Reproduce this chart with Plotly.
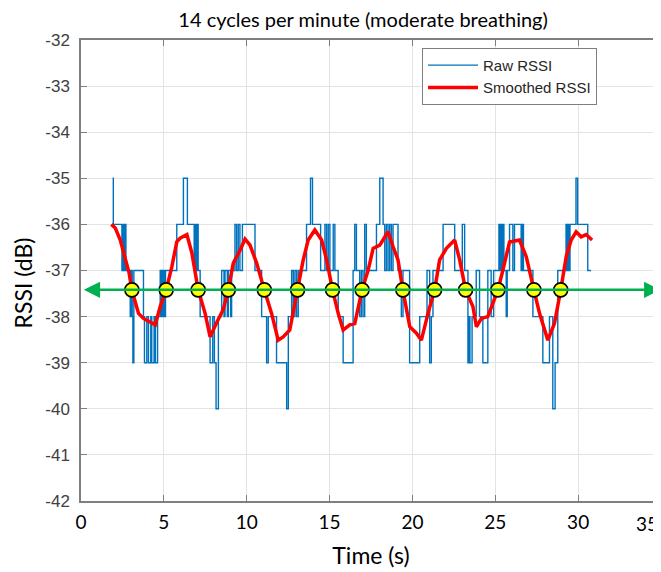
import plotly.graph_objects as go

# ---------------- data ----------------
raw_t = [1.91, 1.95, 2.47, 2.53, 2.61, 2.65, 2.71, 2.97, 3.03, 3.09, 3.13, 3.19, 3.77, 3.83, 3.97, 4.07,
         4.21, 4.27, 4.41, 4.49, 4.62, 4.78, 4.86, 4.94, 5.02, 5.10, 5.78, 6.18, 6.42, 6.83, 6.89, 6.95,
         7.01, 7.07, 7.19, 7.79, 7.95, 8.05, 8.15, 8.29, 8.49, 8.63, 8.69, 8.83, 8.89, 9.03, 9.09, 9.29,
         9.39, 9.49, 9.59, 9.74, 10.5, 10.9, 11.2, 11.3, 11.8, 12.41, 12.51, 12.71, 12.81, 12.91, 13.01,
         13.11, 13.61, 13.85, 13.97, 14.46, 14.72, 14.82, 14.92, 15.02, 15.22, 15.32, 15.52, 15.82, 16.42,
         16.52, 16.62, 16.82, 16.92, 17.02, 17.12, 17.22, 17.83, 18.03, 18.23, 18.33, 18.43, 18.53, 18.63,
         18.73, 18.83, 19.13, 19.33, 19.43, 19.83, 20.44, 20.88, 21.04, 21.14, 21.24, 21.85, 22.55, 23.01,
         23.15, 23.35, 23.41, 23.47, 23.6, 23.85, 24.05, 24.25, 24.55, 24.75, 24.9, 25.22, 25.28, 25.34,
         25.40, 25.46, 25.52, 25.66, 25.72, 25.86, 26.06, 26.16, 26.56, 26.62, 26.7, 27.27, 27.87, 28.27,
         28.47, 28.61, 28.77, 29.27, 29.33, 29.39, 29.45, 29.51, 29.87, 29.97, 30.58, 30.78]
raw_v = [-35, -36, -37, -36, -37, -36, -37, -38, -37, -38, -39, -37, -38, -39, -38, -39,
         -38, -39, -38, -39, -38, -37, -38, -37, -38, -37, -36, -35, -36, -37, -36, -37,
         -36, -37, -38, -39, -38, -39, -40, -38, -37, -38, -37, -38, -37, -38, -37, -36,
         -37, -36, -37, -36, -37, -38, -39, -38, -39, -40, -38, -37, -38, -37, -38,
         -37, -36, -35, -36, -37, -36, -37, -36, -37, -36, -37, -38, -39, -37,
         -36, -37, -38, -37, -38, -36, -37, -36, -35, -36, -37, -36, -37, -36,
         -37, -36, -37, -38, -37, -39, -38, -37, -39, -38, -37, -36, -37, -36,
         -37, -39, -38, -39, -38, -37, -38, -39, -37, -38, -37, -36, -37, -36,
         -37, -36, -37, -38, -37, -36, -37, -36, -37, -36, -37, -38, -39, -38,
         -40, -39, -37, -36, -37, -36, -37, -36, -35, -36, -37, -37]

smooth_t = [1.83, 2.07, 2.37, 2.67, 2.90, 3.07, 3.47, 3.77, 4.10, 4.48, 4.78, 5.14, 5.48, 5.78, 5.98,
            6.39, 6.69, 7.07, 7.49, 7.79, 8.19, 8.59, 8.89, 9.19, 9.60, 9.90, 10.20, 10.60, 11.06,
            11.50, 11.90, 12.20, 12.60, 13.07, 13.41, 13.71, 14.11, 14.52, 14.82, 15.18, 15.52,
            15.82, 16.22, 16.52, 16.96, 17.33, 17.63, 18.03, 18.53, 18.83, 19.13, 19.42, 19.84,
            20.24, 20.54, 20.94, 21.34, 21.64, 22.05, 22.55, 22.85, 23.21, 23.65, 23.86, 24.16,
            24.55, 25.16, 25.46, 25.86, 26.46, 26.87, 27.33, 27.67, 28.17, 28.57, 28.95, 29.28,
            29.58, 29.88, 30.18, 30.48, 30.84]
smooth_v = [-36.00, -36.08, -36.34, -36.77, -37.05, -37.42, -37.93, -38.04, -38.10, -38.18, -37.78,
            -37.42, -36.92, -36.38, -36.30, -36.22, -36.62, -37.42, -37.93, -38.44, -38.13, -37.84,
            -37.42, -36.84, -36.56, -36.32, -36.45, -36.84, -37.42, -37.93, -38.51, -38.44, -38.29,
            -37.42, -36.77, -36.34, -36.12, -36.34, -36.77, -37.42, -37.93, -38.29, -38.18, -38.15,
            -37.42, -36.99, -36.52, -36.45, -36.16, -36.48, -36.77, -37.42, -38.22, -38.36, -38.51,
            -37.93, -37.42, -36.77, -36.52, -36.34, -36.77, -37.42, -37.78, -38.22, -38.04, -38.00,
            -37.42, -36.99, -36.38, -36.34, -36.70, -37.42, -37.93, -38.51, -38.15, -37.42, -36.70,
            -36.34, -36.16, -36.27, -36.22, -36.34]

cross_t = [3.07, 5.14, 7.07, 8.89, 11.06, 13.07, 15.18, 16.96, 19.42, 21.34, 23.21, 25.16, 27.33, 28.95]
mean_level = -37.42
mean_line_t = [0.08, 34.96]

x_ticks = [0, 5, 10, 15, 20, 25, 30, 35]
y_ticks = [-32, -33, -34, -35, -36, -37, -38, -39, -40, -41, -42]

title_text = "14 cycles per minute (moderate breathing)"
x_title = "Time (s)"
y_title = "RSSI (dB)"

# ---------------- figure ----------------
fig = go.Figure()

fig.add_trace(go.Scatter(x=raw_t, y=raw_v, mode="lines", line=dict(color="#0072BD", width=1.4, shape="hv"),
                         name="Raw RSSI"))
fig.add_trace(go.Scatter(x=smooth_t, y=smooth_v, mode="lines", line=dict(color="#FF0000", width=3.5),
                         name="Smoothed RSSI"))

fig.add_annotation(x=mean_line_t[1], y=mean_level, ax=mean_line_t[0], ay=mean_level,
                   xref="x", yref="y", axref="x", ayref="y", text="", showarrow=True,
                   arrowhead=2, arrowside="end+start", arrowsize=1.3, arrowwidth=2.5,
                   arrowcolor="#00B050", standoff=0, startstandoff=0)

fig.add_trace(go.Scatter(x=cross_t, y=[mean_level] * len(cross_t), mode="markers",
                         marker=dict(color="#FFFF00", size=14, line=dict(color="black", width=1.6)),
                         showlegend=False))

# y-axis title placed as rotated text (slightly below the plot centre, as in the reference)
fig.add_annotation(text=y_title, xref="paper", yref="paper", x=-0.1, y=0.472, xanchor="center",
                   yanchor="middle", textangle=-90, showarrow=False,
                   font=dict(family="Lato", size=23, color="black"))

# the last x tick label sits at the window edge: draw it right-aligned so that it stays readable
x_tick_text = [str(v) for v in x_ticks[:-1]] + [""]
fig.add_annotation(text=str(x_ticks[-1]), xref="paper", yref="paper", x=1, y=0, xanchor="right",
                   yanchor="top", xshift=-1, yshift=-9, showarrow=False,
                   font=dict(family="Lato", size=19, color="black"))

axis_common = dict(showgrid=True, gridcolor="#e3e3e3", gridwidth=1, showline=True, linecolor="#7f7f7f",
                   linewidth=1.5, ticks="inside", ticklen=6, tickcolor="#7f7f7f", mirror="ticks",
                   zeroline=False)

fig.update_xaxes(range=[0, 35], tickvals=x_ticks, ticktext=x_tick_text,
                 tickfont=dict(family="Lato", size=19, color="black"), ticklabelstandoff=3,
                 title=dict(text=x_title, font=dict(family="Lato", size=23, color="black"), standoff=16),
                 automargin=False, **axis_common)
fig.update_yaxes(range=[-42, -32], tickvals=y_ticks, ticktext=[str(v) for v in y_ticks],
                 tickfont=dict(family="Liberation Sans", size=17, color="#404040"), ticklabelstandoff=6,
                 automargin=False, **axis_common)

# the page body has an 8px default margin, so the figure is sized/offset to land on the reference layout;
# the plot's right edge sits at the window edge, as in the reference
fig.update_layout(
    width=670, height=564,
    margin=dict(l=73, r=17, t=32, b=71),
    paper_bgcolor="white", plot_bgcolor="white",
    title=dict(text=title_text, x=0.53, xanchor="center", y=0.9796, yanchor="middle",
               font=dict(family="Lato", size=20, color="black")),
    legend=dict(x=0.588, y=0.983, xanchor="left", yanchor="top", bgcolor="white",
                bordercolor="#7f7f7f", borderwidth=1,
                font=dict(family="Liberation Sans", size=15, color="#262626"),
                tracegroupgap=0, itemwidth=50),
    showlegend=True,
)

fig.write_html("out.html")
